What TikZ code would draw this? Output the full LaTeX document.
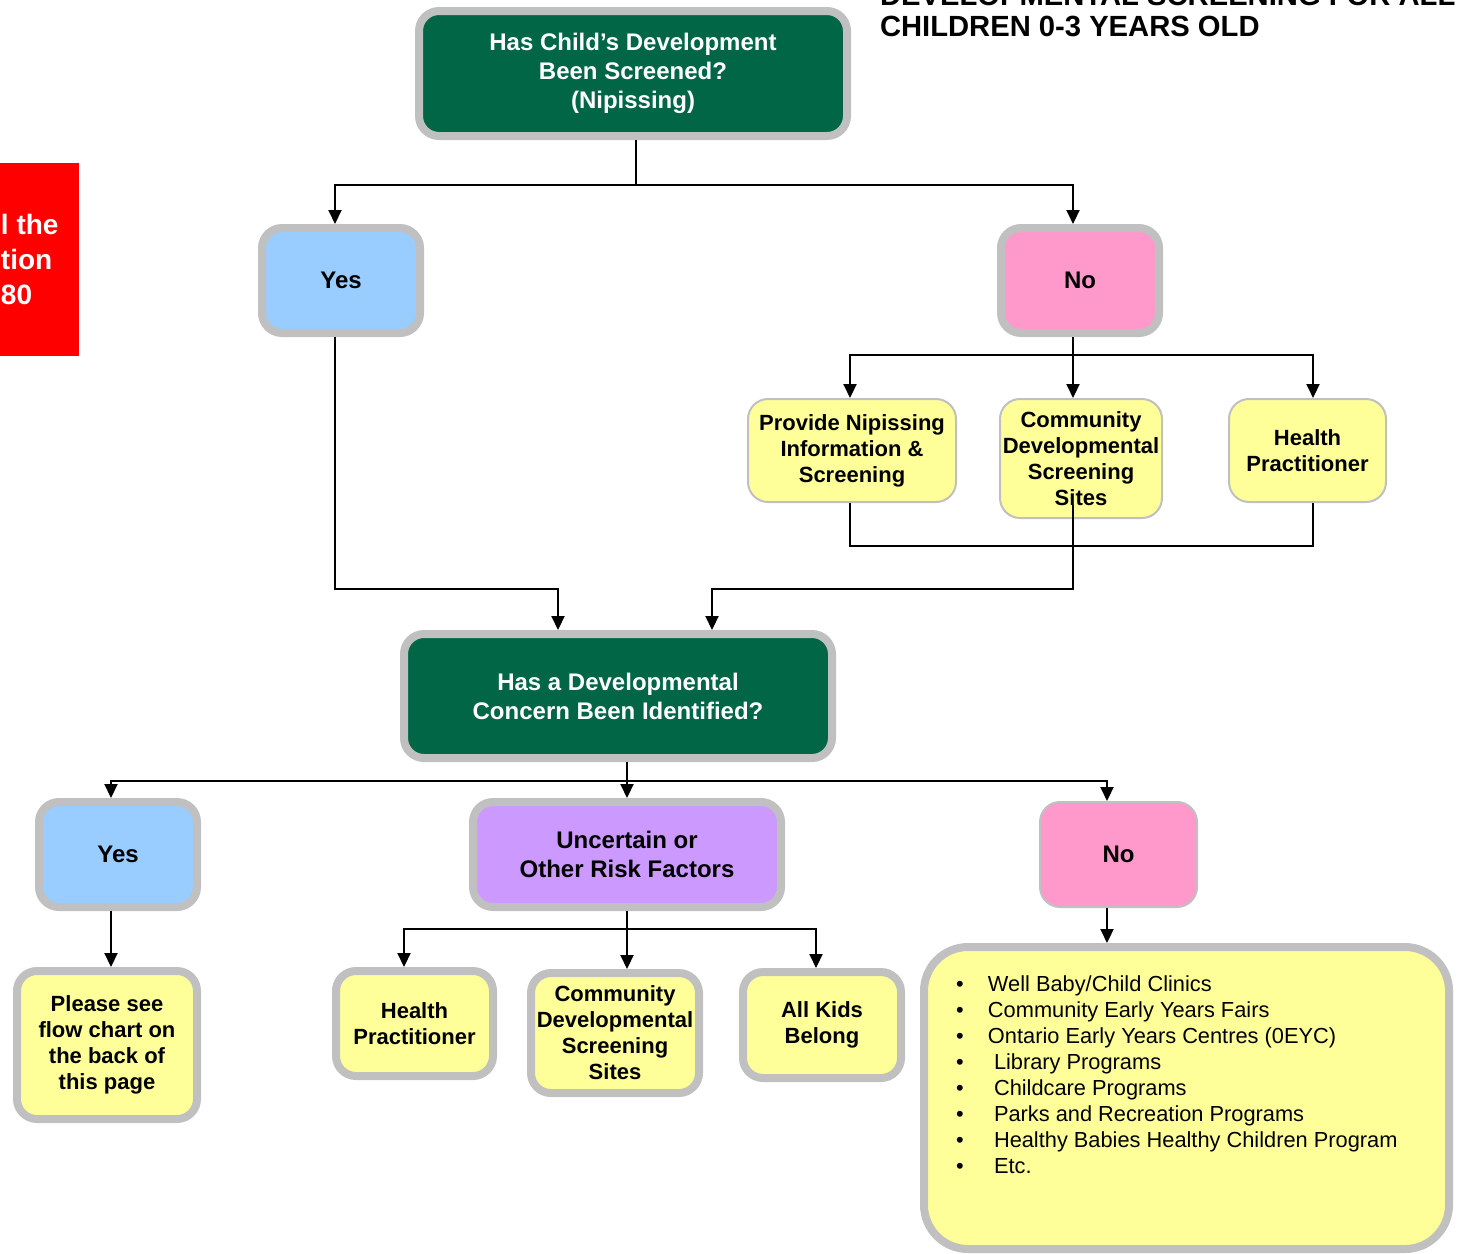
\documentclass[tikz,border=0pt]{standalone}
\usepackage{fontspec}
\setmainfont{Liberation Sans}
\usetikzlibrary{arrows.meta}
\definecolor{qgreen}{RGB}{0,102,70}
\definecolor{ansblue}{RGB}{153,204,255}
\definecolor{anspink}{RGB}{255,153,204}
\definecolor{optyellow}{RGB}{255,255,153}
\definecolor{unsure}{RGB}{204,153,255}
\definecolor{rimgray}{RGB}{192,192,192}

\newcommand{\bul}[2][16pt]{\makebox[#1][l]{•}#2}

\begin{document}
\begin{tikzpicture}[x=0.5pt,y=-0.5pt,line width=1pt,
  box/.style={draw=rimgray,line width=4pt,rounded corners=10pt,align=center,inner sep=2pt},
  thinbox/.style={draw=rimgray,line width=1pt,rounded corners=10pt,align=center,inner sep=1pt},
  big/.style={font=\bfseries\fontsize{12}{14.5}\selectfont},
  small/.style={font=\bfseries\fontsize{11}{13}\selectfont},
  arr/.style={-{Triangle[length=7pt,width=6.5pt]}}]
  \useasboundingbox (0,0) rectangle (1459,1253);

  % side note and title
  \node[fill=red,minimum width=99pt,minimum height=96.5pt,inner sep=0pt] (callbox) at (-20,259.5) {};
  \node[anchor=north west,align=left,inner sep=0pt,text=white,
        font=\bfseries\fontsize{14}{17.5}\selectfont] (calltext) at (0,213) {l the\\tion\\80};
  \node[anchor=base west,inner sep=0pt,font=\bfseries\fontsize{14.6}{16}\selectfont] (title1) at (879,5) {DEVELOPMENTAL SCREENING FOR ALL};
  \node[anchor=base west,inner sep=0pt,font=\bfseries\fontsize{14.6}{16}\selectfont] (title2) at (879,36) {CHILDREN 0-3 YEARS OLD};

  % first question
  \node[box,big,fill=qgreen,text=white,minimum width=214pt,minimum height=62.5pt] (q1) at (633,73.5)
    {Has Child’s Development\\Been Screened?\\(Nipissing)};
  \node[box,big,fill=ansblue,minimum width=79pt,minimum height=52.5pt] (yes1) at (341,280.5) {Yes};
  \node[box,big,fill=anspink,minimum width=79pt,minimum height=52.5pt] (no1) at (1080,280.5) {No};
  \node[thinbox,small,fill=optyellow,minimum width=104pt,minimum height=51.5pt] (p1) at (852,450.5)
    {Provide Nipissing\\Information \&\\Screening};
  \node[thinbox,small,fill=optyellow,minimum width=81pt,minimum height=59.5pt] (c1) at (1081,458.5)
    {Community\\Developmental\\Screening\\Sites};
  \node[thinbox,small,fill=optyellow,minimum width=78.5pt,minimum height=51.5pt] (h1) at (1307.5,450.5)
    {Health\\Practitioner};

  \draw ([xshift=1.5pt]q1.south) -- ++(0,45) coordinate (j1);
  \draw[arr] (j1) -| ([xshift=-3pt]yes1.north);
  \draw[arr] (j1) -| ([xshift=-3.5pt]no1.north);
  \draw ([xshift=-3.5pt]no1.south) -- ++(0,18) coordinate (j2);
  \draw[arr] (j2) -| ([xshift=-1pt]p1.north);
  \draw[arr] (j2) -- (j2 |- c1.north);
  \draw[arr] (j2) -| ([xshift=2.75pt]h1.north);

  % second question
  \node[box,big,fill=qgreen,text=white,minimum width=214pt,minimum height=62pt] (q2) at (618,696)
    {Has a Developmental\\Concern Been Identified?};

  \coordinate (m1) at (558,589);
  \coordinate (m2) at (712,589);
  \coordinate (j3) at (1073,546);
  \draw ([xshift=-1pt]p1.south) |- (j3) -| ([xshift=2.75pt]h1.south);
  \draw[arr] ([xshift=-3pt]yes1.south) |- (m1) -- (m1 |- q2.north);
  \draw[arr] ([xshift=-4pt,yshift=7pt]c1.south) |- (m2) -- (m2 |- q2.north);

  \node[box,big,fill=ansblue,minimum width=79pt,minimum height=52.5pt] (yes2) at (118,854.5) {Yes};
  \node[box,big,fill=unsure,minimum width=154pt,minimum height=52.5pt] (unc) at (627,854.5)
    {Uncertain or\\Other Risk Factors};
  \node[thinbox,big,fill=anspink,minimum width=78.5pt,minimum height=52.5pt] (no2) at (1118.5,854.5) {No};

  \node[box,small,fill=optyellow,minimum width=90pt,minimum height=74pt] (please) at (107,1045)
    {Please see\\flow chart on\\the back of\\this page};
  \node[box,small,fill=optyellow,minimum width=78.5pt,minimum height=52.5pt] (h2) at (414.5,1023.5)
    {Health\\Practitioner};
  \node[box,small,fill=optyellow,minimum width=84pt,minimum height=60pt] (c2) at (615,1033)
    {Community\\Developmental\\Screening\\Sites};
  \node[box,small,fill=optyellow,minimum width=79pt,minimum height=53pt] (a2) at (822,1025)
    {All Kids\\Belong};
  \node[box,fill=optyellow,rounded corners=22pt,minimum width=262.5pt,minimum height=151pt] (kinds) at (1186.5,1098) {};
  \node[anchor=north west,align=left,inner sep=0pt,font=\fontsize{10.9}{13}\selectfont] (kindlist) at (955,975)
    {\bul{Well Baby/Child Clinics}\\
     \bul{Community Early Years Fairs}\\
     \bul{Ontario Early Years Centres (0EYC)}\\
     \bul[19pt]{Library Programs}\\
     \bul[19pt]{Childcare Programs}\\
     \bul[19pt]{Parks and Recreation Programs}\\
     \bul[19pt]{Healthy Babies Healthy Children Program}\\
     \bul[19pt]{Etc.}};

  \draw (unc.north |- q2.south) -- ++(0,19) coordinate (j4);
  \draw[arr] (j4) -| ([xshift=-3.5pt]yes2.north);
  \draw[arr] (j4) -- (unc.north);
  \draw[arr] (j4) -| ([xshift=-5.75pt]no2.north);
  \draw[arr] ([xshift=-3.5pt]yes2.south) -- ([xshift=-3.5pt]yes2.south |- please.north);
  \draw (unc.south) -- ++(0,18) coordinate (j5);
  \draw[arr] (j5) -| ([xshift=-5.25pt]h2.north);
  \draw[arr] (j5) -- (j5 |- c2.north);
  \draw[arr] (j5) -| ([xshift=-3pt]a2.north);
  \draw[arr] ([xshift=-5.75pt]no2.south) -- ([xshift=-5.75pt]no2.south |- kinds.north);
\end{tikzpicture}
\end{document}
